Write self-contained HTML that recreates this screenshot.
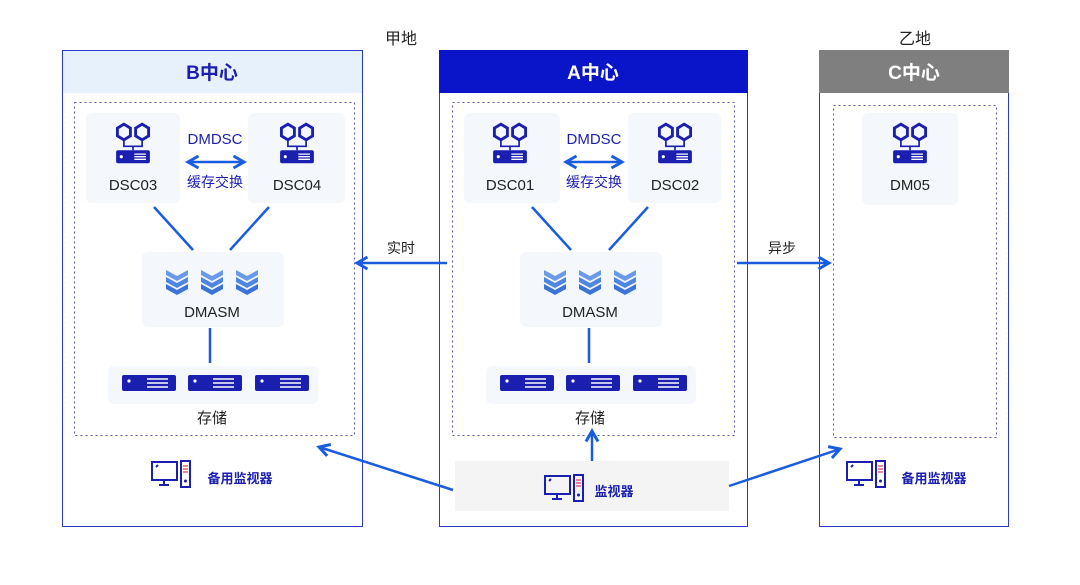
<!DOCTYPE html>
<html><head><meta charset="utf-8"><style>
body{margin:0;background:#fff;}
svg text{font-family:"Liberation Sans","Noto Sans CJK SC",sans-serif;}
</style></head><body>
<svg width="1080" height="580" viewBox="0 0 1080 580" xmlns="http://www.w3.org/2000/svg">
<defs>
<g id="dsc"><g transform="translate(0,-1) scale(1.3)">
 <polygon points="-12,-13 -7,-16 -2,-13 -2,-7 -7,-4 -12,-7" fill="none" stroke="#1a1fb0" stroke-width="2.2"/>
 <polygon points="2,-13 7,-16 12,-13 12,-7 7,-4 2,-7" fill="none" stroke="#1a1fb0" stroke-width="2.2"/>
 <path d="M-7,-4 V1 H7 V-4 M0,1 V4" fill="none" stroke="#1a1fb0" stroke-width="1.3"/>
 <rect x="-13" y="4" width="26" height="10" rx="1.5" fill="#1a1fb0"/>
 <circle cx="-9" cy="9" r="1.2" fill="#fff"/>
 <path d="M1,7 H10 M1,9 H10 M1,11 H10" stroke="#fff" stroke-width="1"/>
</g></g>
<g id="stack">
 <path d="M-11,-10 L0,-4 L11,-10 V-5 L0,1 L-11,-5Z" fill="#6a9ae8"/>
 <path d="M-11,-3 L0,3 L11,-3 V2 L0,8 L-11,2Z" fill="#4f86e0"/>
 <path d="M-11,4 L0,10 L11,4 V9 L0,15 L-11,9Z" fill="#3a74d8"/>
</g>
<g id="srv">
 <rect x="-27" y="-8" width="54" height="16" rx="2" fill="#1a1fb0"/>
 <circle cx="-20" cy="-2" r="1.6" fill="#fff"/>
 <path d="M-2,-4 H19 M-2,0 H19 M-2,4 H19" stroke="#fff" stroke-width="1.4"/>
</g>
<g id="mon">
 <rect x="-20" y="-12" width="25" height="18" fill="none" stroke="#1a1fb0" stroke-width="2"/>
 <path d="M-8,6 V10 M-13,11 H-3 M-16,-7 L-14,-9" stroke="#1a1fb0" stroke-width="2"/>
 <rect x="9" y="-13" width="9" height="26" fill="none" stroke="#1a1fb0" stroke-width="2"/>
 <path d="M11,-8 H16 M11,-5 H16 M11,-2 H16" stroke="#e04050" stroke-width="1.3"/>
 <circle cx="13.5" cy="7" r="1.5" fill="#1a1fb0"/>
</g>
<marker id="ah" viewBox="0 0 10 10" refX="8" refY="5" markerWidth="6" markerHeight="6" orient="auto-start-reverse"><path d="M1,1 L8,5 L1,9" fill="none" stroke="#1a5ce0" stroke-width="2"/></marker>
</defs>

<text x="401" y="44" font-size="16" text-anchor="middle" fill="#222">甲地</text>
<text x="915" y="44" font-size="16" text-anchor="middle" fill="#222">乙地</text>

<rect x="62.5" y="50.5" width="300" height="476" fill="#fff" stroke="#2a3bc8"/>
<rect x="63" y="51" width="299" height="42" fill="#e6f1fb"/>
<text x="212" y="79" font-size="19" font-weight="bold" text-anchor="middle" fill="#1a1fb0">B中心</text>

<rect x="439.5" y="50.5" width="308" height="476" fill="#fff" stroke="#2a3bc8"/>
<rect x="439" y="50" width="309" height="43" fill="#0a14c8"/>
<text x="593" y="79" font-size="19" font-weight="bold" text-anchor="middle" fill="#fff">A中心</text>

<rect x="819.5" y="50.5" width="189" height="476" fill="#fff" stroke="#2a3bc8"/>
<rect x="819" y="50" width="190" height="43" fill="#7f7f7f"/>
<text x="914" y="79" font-size="19" font-weight="bold" text-anchor="middle" fill="#fff">C中心</text>

<rect x="74.5" y="102.5" width="280" height="333" fill="none" stroke="#5a5ab0" stroke-dasharray="2,3"/>
<rect x="452.5" y="102.5" width="282" height="333" fill="none" stroke="#5a5ab0" stroke-dasharray="2,3"/>
<rect x="833.5" y="105.5" width="163" height="332" fill="none" stroke="#5a5ab0" stroke-dasharray="2,3"/>

<!-- B center -->
<rect x="86" y="113" width="94" height="90" rx="6" fill="#f4f7fc"/>
<rect x="248" y="113" width="97" height="90" rx="6" fill="#f4f7fc"/>
<use href="#dsc" x="133" y="146"/>
<use href="#dsc" x="297" y="146"/>
<text x="133" y="190" font-size="15" text-anchor="middle" fill="#222">DSC03</text>
<text x="297" y="190" font-size="15" text-anchor="middle" fill="#222">DSC04</text>
<text x="215" y="144" font-size="15" text-anchor="middle" fill="#1a1fb0">DMDSC</text>
<line x1="188" y1="162" x2="244" y2="162" stroke="#1a5ce0" stroke-width="2.5" marker-start="url(#ah)" marker-end="url(#ah)"/>
<text x="215" y="187" font-size="14" text-anchor="middle" fill="#1a1fb0">缓存交换</text>
<line x1="154" y1="207" x2="193" y2="250" stroke="#1a5ce0" stroke-width="2.5"/>
<line x1="269" y1="207" x2="230" y2="250" stroke="#1a5ce0" stroke-width="2.5"/>
<rect x="142" y="252" width="142" height="75" rx="6" fill="#f4f7fc"/>
<use href="#stack" x="177" y="280"/><use href="#stack" x="212" y="280"/><use href="#stack" x="247" y="280"/>
<text x="212" y="317" font-size="15" text-anchor="middle" fill="#222">DMASM</text>
<line x1="210" y1="328" x2="210" y2="363" stroke="#1a5ce0" stroke-width="2.5"/>
<rect x="108" y="366" width="210" height="38" rx="6" fill="#f4f7fc"/>
<use href="#srv" x="149" y="383"/><use href="#srv" x="215" y="383"/><use href="#srv" x="282" y="383"/>
<text x="212" y="423" font-size="15" text-anchor="middle" fill="#222">存储</text>
<use href="#mon" x="172" y="474"/>
<text x="240" y="483" font-size="13" font-weight="bold" text-anchor="middle" fill="#1a1fb0">备用监视器</text>

<!-- A center -->
<rect x="464" y="113" width="96" height="90" rx="6" fill="#f4f7fc"/>
<rect x="628" y="113" width="93" height="90" rx="6" fill="#f4f7fc"/>
<use href="#dsc" x="510" y="146"/>
<use href="#dsc" x="675" y="146"/>
<text x="510" y="190" font-size="15" text-anchor="middle" fill="#222">DSC01</text>
<text x="675" y="190" font-size="15" text-anchor="middle" fill="#222">DSC02</text>
<text x="594" y="144" font-size="15" text-anchor="middle" fill="#1a1fb0">DMDSC</text>
<line x1="566" y1="162" x2="622" y2="162" stroke="#1a5ce0" stroke-width="2.5" marker-start="url(#ah)" marker-end="url(#ah)"/>
<text x="594" y="187" font-size="14" text-anchor="middle" fill="#1a1fb0">缓存交换</text>
<line x1="532" y1="207" x2="571" y2="250" stroke="#1a5ce0" stroke-width="2.5"/>
<line x1="648" y1="207" x2="609" y2="250" stroke="#1a5ce0" stroke-width="2.5"/>
<rect x="520" y="252" width="142" height="75" rx="6" fill="#f4f7fc"/>
<use href="#stack" x="555" y="280"/><use href="#stack" x="590" y="280"/><use href="#stack" x="625" y="280"/>
<text x="590" y="317" font-size="15" text-anchor="middle" fill="#222">DMASM</text>
<line x1="589" y1="328" x2="589" y2="363" stroke="#1a5ce0" stroke-width="2.5"/>
<rect x="486" y="366" width="210" height="38" rx="6" fill="#f4f7fc"/>
<use href="#srv" x="527" y="383"/><use href="#srv" x="593" y="383"/><use href="#srv" x="660" y="383"/>
<text x="590" y="423" font-size="15" text-anchor="middle" fill="#222">存储</text>
<rect x="455" y="461" width="274" height="50" fill="#f4f4f4"/>
<use href="#mon" x="565" y="488"/>
<text x="614" y="496" font-size="13" font-weight="bold" text-anchor="middle" fill="#1a1fb0">监视器</text>
<line x1="592" y1="461" x2="592" y2="431" stroke="#1a5ce0" stroke-width="2.5" marker-end="url(#ah)"/>

<!-- C center -->
<rect x="862" y="113" width="96" height="92" rx="6" fill="#f4f7fc"/>
<use href="#dsc" x="910" y="146"/>
<text x="910" y="190" font-size="15" text-anchor="middle" fill="#222">DM05</text>
<use href="#mon" x="867" y="474"/>
<text x="934" y="483" font-size="13" font-weight="bold" text-anchor="middle" fill="#1a1fb0">备用监视器</text>

<line x1="447" y1="263" x2="357" y2="263" stroke="#1a5ce0" stroke-width="2.5" marker-end="url(#ah)"/>
<text x="401" y="253" font-size="14" text-anchor="middle" fill="#222">实时</text>
<line x1="737" y1="263" x2="829" y2="263" stroke="#1a5ce0" stroke-width="2.5" marker-end="url(#ah)"/>
<text x="782" y="253" font-size="14" text-anchor="middle" fill="#222">异步</text>
<line x1="453" y1="490" x2="319" y2="447" stroke="#1a5ce0" stroke-width="2.5" marker-end="url(#ah)"/>
<line x1="729" y1="486" x2="840" y2="449" stroke="#1a5ce0" stroke-width="2.5" marker-end="url(#ah)"/>
</svg>
</body></html>
